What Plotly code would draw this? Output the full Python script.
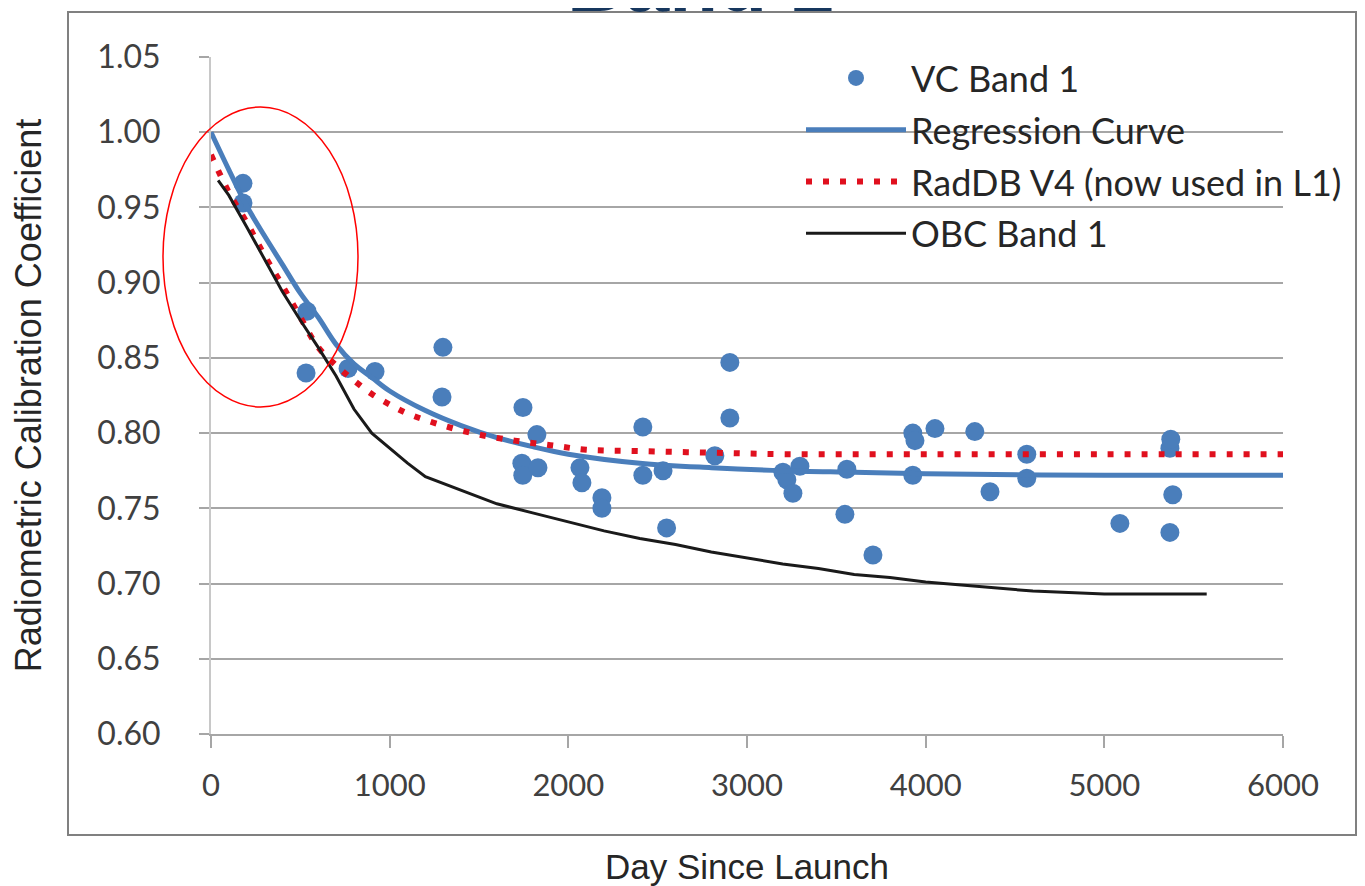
import plotly.graph_objects as go

# ---------------- data ----------------
vc_days = [179, 179, 537, 532, 767, 918, 1298, 1293, 1746, 1740, 1745, 1830, 1824,
           2065, 2076, 2188, 2188, 2417, 2417, 2530, 2550, 2820, 2904, 2904,
           3201, 3223, 3257, 3296, 3548, 3559, 3705, 3928, 3928, 3940, 4052,
           4275, 4360, 4566, 4566, 5087, 5367, 5372, 5383, 5367]
vc_coef = [0.966, 0.953, 0.881, 0.840, 0.843, 0.841, 0.857, 0.824, 0.817, 0.780, 0.772, 0.777, 0.799,
           0.777, 0.767, 0.757, 0.750, 0.804, 0.772, 0.775, 0.737, 0.785, 0.847, 0.810,
           0.774, 0.769, 0.760, 0.778, 0.746, 0.776, 0.719, 0.800, 0.772, 0.795, 0.803,
           0.801, 0.761, 0.786, 0.770, 0.740, 0.790, 0.796, 0.759, 0.734]

reg_days = [0, 100, 200, 300, 400, 500, 600, 700, 800, 900, 1000, 1200, 1400, 1600,
            1800, 2000, 2400, 2800, 3200, 3600, 4000, 5000, 6000]
reg_coef = [1.000, 0.975, 0.951, 0.931, 0.912, 0.893, 0.877, 0.859, 0.846, 0.837, 0.828,
            0.815, 0.805, 0.797, 0.791, 0.786, 0.780, 0.777, 0.775, 0.774, 0.773, 0.772, 0.772]

rad_days = [0, 100, 200, 300, 400, 500, 600, 700, 800, 900, 1000, 1100, 1300, 1500,
            1700, 1900, 2100, 2400, 2800, 3200, 4000, 5000, 6000]
rad_coef = [0.985, 0.960, 0.940, 0.918, 0.898, 0.877, 0.857, 0.845, 0.835, 0.826, 0.819,
            0.813, 0.805, 0.799, 0.795, 0.792, 0.789, 0.788, 0.787, 0.786, 0.786, 0.786, 0.786]

obc_days = [40, 100, 200, 300, 400, 500, 600, 700, 800, 900, 1000, 1100, 1200, 1400,
            1600, 1800, 2000, 2200, 2400, 2600, 2800, 3000, 3200, 3400, 3600, 3800,
            4000, 4200, 4400, 4600, 4800, 5000, 5200, 5400, 5573]
obc_coef = [0.968, 0.958, 0.937, 0.915, 0.894, 0.875, 0.857, 0.838, 0.816, 0.800, 0.790,
            0.780, 0.771, 0.762, 0.753, 0.747, 0.741, 0.735, 0.730, 0.726, 0.721, 0.717,
            0.713, 0.710, 0.706, 0.704, 0.701, 0.699, 0.697, 0.695, 0.694, 0.693, 0.693,
            0.693, 0.693]

x_ticks = [0, 1000, 2000, 3000, 4000, 5000, 6000]
y_ticks = [0.60, 0.65, 0.70, 0.75, 0.80, 0.85, 0.90, 0.95, 1.00, 1.05]

BLUE = "#4a7ebb"
LEG_FONT = dict(family="Lato, Liberation Sans, sans-serif", size=36, color="#262626")
fig = go.Figure()
fig.add_trace(go.Scatter(x=vc_days, y=vc_coef, mode="markers", name="VC Band 1", legendgroup="a",
                         marker=dict(color=BLUE, size=19, line=dict(width=0))))
fig.add_trace(go.Scatter(x=reg_days, y=reg_coef, mode="lines", name="Regression Curve", legendgroup="b",
                         line=dict(color=BLUE, width=5, shape="spline")))
fig.add_trace(go.Scatter(x=rad_days, y=rad_coef, mode="lines", name="RadDB V4 (now used in L1)",
                         legendgroup="c",
                         line=dict(color="#e0101e", width=6, dash="6px,11px", shape="spline")))
fig.add_trace(go.Scatter(x=obc_days, y=obc_coef, mode="lines", name="OBC Band 1", legendgroup="d",
                         line=dict(color="#1a1a1a", width=3)))

# page body has an 8px offset; figure is sized/positioned to compensate
W, H = 1357, 878
L, T, R, B = 203, 49, 82, 152
pw, ph = W - L - R, H - T - B


def px(xp):  # page pixel -> paper x
    return (xp - 8 - L) / pw


def py(yp):  # page pixel -> paper y
    return (H - B - (yp - 8)) / ph


fig.update_layout(
    width=W, height=H,
    margin=dict(l=L, r=R, t=T, b=B, autoexpand=False),
    paper_bgcolor="white", plot_bgcolor="white",
    showlegend=True,
    legend=dict(x=px(801), y=py(48), xanchor="left", yanchor="top",
                bgcolor="rgba(0,0,0,0)", itemwidth=100,
                font=LEG_FONT, tracegroupgap=2),
    xaxis=dict(range=[0, 6000], tickvals=x_ticks, ticktext=[str(v) for v in x_ticks],
               showgrid=False, zeroline=False, showline=True, linecolor="#a6a6a6", linewidth=2,
               ticks="outside", ticklen=12, tickwidth=2, tickcolor="#a6a6a6",
               ticklabelstandoff=11, automargin=False,
               tickfont=dict(family="Lato, Liberation Sans, sans-serif", size=31, color="#404040"),
               title=dict(text="Day Since Launch", standoff=68,
                          font=dict(family="Liberation Sans, Arial, sans-serif", size=35, color="#262626"))),
    yaxis=dict(range=[0.60, 1.05], tickvals=y_ticks, ticktext=[f"{v:.2f}" for v in y_ticks],
               showgrid=True, gridcolor="#a6a6a6", gridwidth=2, zeroline=False,
               showline=True, linecolor="#c8c8c8", linewidth=2,
               ticks="outside", ticklen=10, tickwidth=2, tickcolor="#a6a6a6",
               ticklabelstandoff=32, automargin=False,
               tickfont=dict(family="Lato, Liberation Sans, sans-serif", size=32, color="#404040"),
               title=dict(text="Radiometric Calibration Coefficient", standoff=50,
                          font=dict(family="Liberation Sans, Arial, sans-serif", size=36, color="#262626"))),
    shapes=[
        dict(type="rect", xref="paper", yref="paper", x0=px(68), x1=px(1356), y0=py(835), y1=py(12),
             line=dict(color="#808080", width=2), fillcolor="rgba(0,0,0,0)", layer="below"),
        dict(type="circle", xref="paper", yref="paper", x0=px(163), x1=px(358), y0=py(407), y1=py(107),
             line=dict(color="#ff0000", width=1.5), fillcolor="rgba(0,0,0,0)", layer="above"),
    ],
    annotations=[
        dict(text="<b>Band 1</b>", xref="paper", yref="paper", x=px(700), y=py(30),
             xanchor="center", yanchor="bottom", showarrow=False,
             font=dict(family="Liberation Sans, Arial, sans-serif", size=80, color="#17375e")),
    ],
)

fig.write_html("out.html")
